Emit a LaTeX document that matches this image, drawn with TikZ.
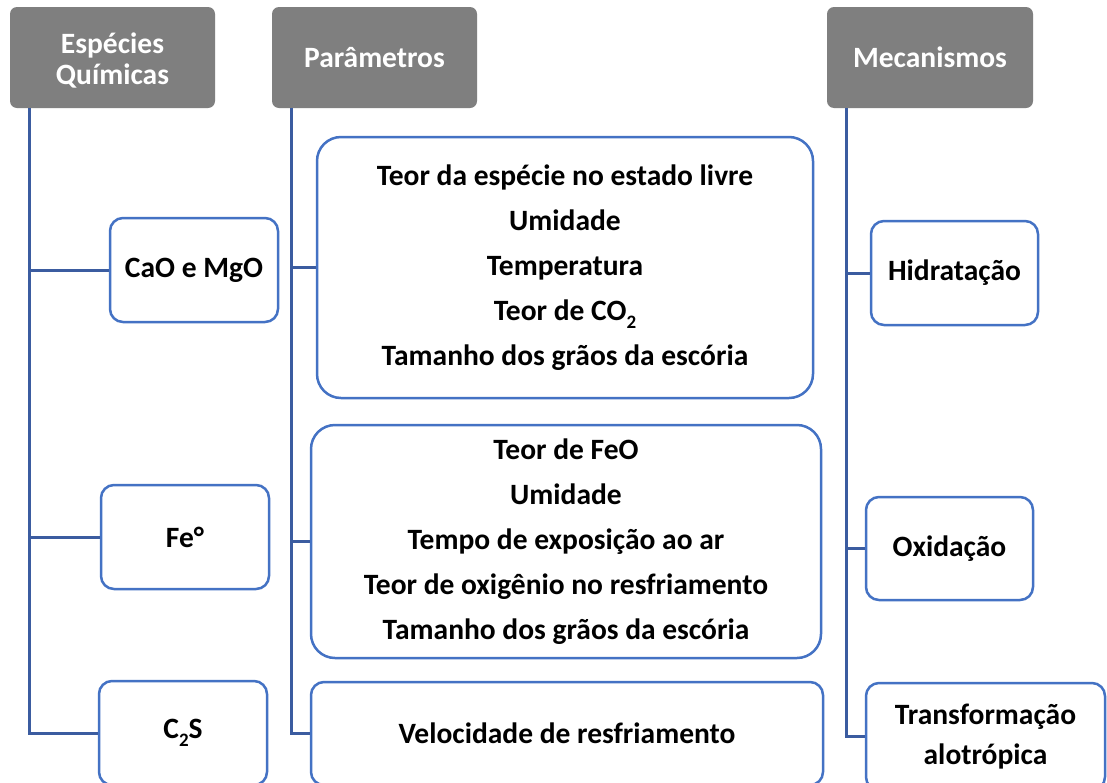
\documentclass[tikz,border=0pt]{standalone}
\usepackage{fontspec}
\setmainfont{Carlito}
\definecolor{hdr}{RGB}{127,127,127}
\definecolor{conncol}{RGB}{59,92,160}
\definecolor{boxcol}{RGB}{68,114,196}
\newcommand{\lowsub}[1]{\raisebox{-0.28em}{\fontsize{19}{19}\selectfont #1}}
\begin{document}
\begin{tikzpicture}[x=1pt,y=-1pt,
  hdrbox/.style={fill=hdr, rounded corners=7pt, text=white, font=\bfseries\fontsize{29.5}{31}\selectfont, align=center, inner sep=0pt},
  itembox/.style={draw=boxcol, line width=2.5pt, fill=white, rounded corners=13pt, font=\bfseries\fontsize{29.5}{40}\selectfont, align=center, inner sep=0pt},
  bigbox/.style={itembox, rounded corners=24pt, font=\bfseries\fontsize{29.5}{45}\selectfont},
  conn/.style={draw=conncol, line width=3pt}]
\useasboundingbox (0,0) rectangle (1107,782);
\clip (0,0) rectangle (1107,782);
\fill[white] (0,0) rectangle (1107,782);

% headers
\node[hdrbox, minimum width=205pt, minimum height=101pt] (esp) at (112.5,57.5)
  {\raisebox{-5pt}[\height][\depth]{\begin{tabular}{@{}c@{}}Espécies\\Químicas\end{tabular}}};
\node[hdrbox, minimum width=205pt, minimum height=101pt] (par) at (374.5,57.5) {Parâmetros};
\node[hdrbox, minimum width=206pt, minimum height=101pt] (mec) at (930,57.5) {Mecanismos};

% species
\node[itembox, minimum width=168pt, minimum height=104pt] (cao) at (194,270) {CaO e MgO};
\node[itembox, minimum width=168pt, minimum height=104pt] (fe) at (185,537) {Fe°};
\node[itembox, minimum width=168pt, minimum height=104pt] (c2s) at (183,733) {C\lowsub{2}S};

% parameters
\node[bigbox, minimum width=496pt, minimum height=261pt] (big1) at (565,267.5)
  {Teor da espécie no estado livre\\Umidade\\Temperatura\\Teor de CO\lowsub{2}\\Tamanho dos grãos da escória};
\node[bigbox, minimum width=510pt, minimum height=233pt] (big2) at (566,541.5)
  {Teor de FeO\\Umidade\\Tempo de exposição ao ar\\Teor de oxigênio no resfriamento\\Tamanho dos grãos da escória};
\node[itembox, minimum width=512pt, minimum height=103pt] (vel) at (567,733.5) {Velocidade de resfriamento};

% mechanisms
\node[itembox, minimum width=167pt, minimum height=104pt] (hid) at (954.5,273) {Hidratação};
\node[itembox, minimum width=167pt, minimum height=103pt] (oxi) at (949.5,548.5) {Oxidação};
\node[itembox, minimum width=239pt, minimum height=107pt] (trans) at (985.5,736.5) {Transformação\\alotrópica};

% connectors
\coordinate (eL) at ([xshift=20pt]esp.south west);
\coordinate (pL) at ([xshift=20pt]par.south west);
\coordinate (mL) at ([xshift=20pt]mec.south west);
\draw[conn] (eL) |- (c2s.west);
\draw[conn] (cao.west) -- (cao.west -| eL);
\draw[conn] (fe.west) -- (fe.west -| eL);
\draw[conn] (pL) |- (vel.west);
\draw[conn] (big1.west) -- (big1.west -| pL);
\draw[conn] (big2.west) -- (big2.west -| pL);
\draw[conn] (mL) |- (trans.west);
\draw[conn] (hid.west) -- (hid.west -| mL);
\draw[conn] (oxi.west) -- (oxi.west -| mL);
\end{tikzpicture}
\end{document}
